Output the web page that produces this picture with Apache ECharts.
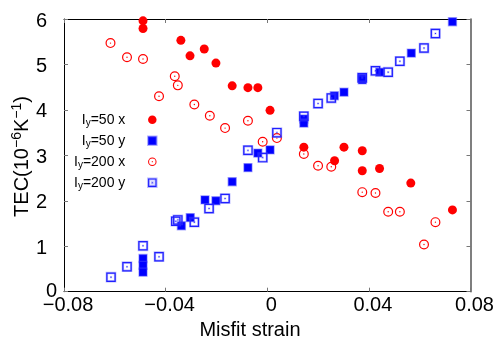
<!DOCTYPE html>
<html><head><meta charset="utf-8">
<script src="https://cdn.jsdelivr.net/npm/echarts@6/dist/echarts.min.js"></script>
<style>html,body{margin:0;padding:0;background:#fff}#c{width:500px;height:350px}</style>
</head><body><div id="c"></div>
<script>
// ---- data ----
const seriesNames = ['Iy=50 x', 'Iy=50 y', 'Iy=200 x', 'Iy=200 y'];

const strain50x = [-0.0489, -0.0489, -0.0340, -0.0304, -0.0248, -0.0202, -0.0138, -0.0076, -0.0037, 0.0011, 0.0144, 0.0265, 0.0302, 0.0374, 0.0374, 0.0442, 0.0565, 0.0729];
const tec50x    = [5.96, 5.79, 5.53, 5.19, 5.34, 5.03, 4.53, 4.49, 4.49, 3.99, 3.18, 2.88, 3.18, 3.10, 2.66, 2.71, 2.39, 1.80];

const strain50y = [-0.0489, -0.0489, -0.0489, -0.0338, -0.0303, -0.0245, -0.0202, -0.0138, -0.0076, -0.0037, 0.0011, 0.0144, 0.0144, 0.0264, 0.0302, 0.0374, 0.0374, 0.0443, 0.0567, 0.0729];
const tec50y    = [0.73, 0.58, 0.43, 1.45, 1.63, 2.02, 2.00, 2.42, 2.73, 3.05, 3.12, 3.80, 3.71, 4.31, 4.39, 4.70, 4.66, 4.83, 5.25, 5.94];

const strain200x = [-0.0617, -0.0552, -0.0489, -0.0426, -0.0364, -0.0352, -0.0287, -0.0226, -0.0166, -0.0076, -0.0018, 0.0038, 0.0144, 0.0200, 0.0252, 0.0374, 0.0426, 0.0476, 0.0522, 0.0617, 0.0662];
const tec200x    = [5.47, 5.16, 5.12, 4.30, 4.74, 4.54, 4.12, 3.87, 3.60, 3.76, 3.30, 3.38, 3.03, 2.77, 2.75, 2.19, 2.17, 1.76, 1.76, 1.04, 1.53];

const strain200y = [-0.0615, -0.0552, -0.0489, -0.0426, -0.0360, -0.0352, -0.0287, -0.0229, -0.0166, -0.0076, -0.0018, 0.0038, 0.0144, 0.0200, 0.0252, 0.0374, 0.0426, 0.0476, 0.0522, 0.0617, 0.0662];
const tec200y    = [0.32, 0.55, 1.01, 0.77, 1.55, 1.58, 1.53, 1.83, 2.05, 3.11, 2.95, 3.50, 3.86, 4.14, 4.26, 4.71, 4.86, 4.83, 5.07, 5.36, 5.68];

const xMin = -0.08, xMax = 0.08, xStep = 0.04;
const xTickLabels = ['\u22120.08', '\u22120.04', '0', '0.04', '0.08'];
const yMin = 0, yMax = 6, yStep = 1;
const yTickLabels = ['0', '1', '2', '3', '4', '5', '6'];

// ---- styling ----
const FONT = 'Liberation Sans, Arial, Helvetica, sans-serif';
const RED = '#ff0000', BLUE = '#0000ff';
const ringSym = 'path://M0,10A10,10,0,1,0,20,10A10,10,0,1,0,0,10Z M2.4,10A7.6,7.6,0,1,1,17.6,10A7.6,7.6,0,1,1,2.4,10Z M8.6,10A1.4,1.4,0,1,0,11.4,10A1.4,1.4,0,1,0,8.6,10Z';
const boxSym = 'path://M0,0L20,0L20,20L0,20Z M2.6,2.6L2.6,17.4L17.4,17.4L17.4,2.6Z M9,9L11,9L11,11L9,11Z';
const sqSym = 'path://M0,0L10,0L10,10L0,10Z';

function pairs(xs, ys) { return xs.map((x, i) => [x, ys[i]]); }

const legendLabel = {
  'Iy=50 x': '{n|I}{s|y}{n|=50 x}',
  'Iy=50 y': '{n|I}{s|y}{n|=50 y}',
  'Iy=200 x': '{n|I}{s|y}{n|=200 x}',
  'Iy=200 y': '{n|I}{s|y}{n|=200 y}'
};

const chart = echarts.init(document.getElementById('c'), null, {renderer: 'canvas'});

const axisTickStyle = {inside: true, length: 4, lineStyle: {color: '#777', width: 1}};

chart.setOption({
  animation: false,
  backgroundColor: '#fff',
  grid: {left: 64, right: 29.5, top: 19, bottom: 58.3, containLabel: false},
  xAxis: [{
    type: 'value', min: xMin, max: xMax, interval: xStep, position: 'bottom',
    axisLine: {onZero: false, lineStyle: {color: '#000', width: 1}},
    axisTick: axisTickStyle, splitLine: {show: false},
    axisLabel: {
      margin: 4, color: '#000', fontFamily: FONT, fontSize: 20, padding: [0, 0, 0, 8],
      formatter: v => xTickLabels[Math.round((v - xMin) / xStep)]
    }
  }, {
    type: 'value', min: xMin, max: xMax, interval: xStep, position: 'top',
    axisLine: {onZero: false, lineStyle: {color: '#000', width: 1}},
    axisTick: axisTickStyle, splitLine: {show: false}, axisLabel: {show: false}
  }],
  yAxis: [{
    type: 'value', min: yMin, max: yMax, interval: yStep, position: 'left',
    axisLine: {onZero: false, lineStyle: {color: '#000', width: 1}},
    axisTick: axisTickStyle, splitLine: {show: false},
    axisLabel: {
      margin: 7, color: '#000', fontFamily: FONT, fontSize: 20,
      formatter: v => {
        const i = Math.round((v - yMin) / yStep);
        return i === 0 ? '{z|' + yTickLabels[i] + '}' : '{a|' + yTickLabels[i] + '}';
      },
      rich: {
        a: {fontFamily: FONT, fontSize: 20, color: '#000', padding: [4, 10, 0, 0]},
        z: {fontFamily: FONT, fontSize: 20, color: '#000'}
      }
    }
  }, {
    type: 'value', min: yMin, max: yMax, interval: yStep, position: 'right',
    axisLine: {onZero: false, lineStyle: {color: '#555', width: 1.5}},
    axisTick: axisTickStyle, splitLine: {show: false}, axisLabel: {show: false}
  }],
  legend: {
    data: seriesNames,
    orient: 'vertical', align: 'right', left: 74, top: 110.7, padding: 0,
    itemWidth: 44, itemHeight: 8.5, itemGap: 3, selectedMode: false,
    formatter: name => legendLabel[name],
    textStyle: {
      color: '#000', fontFamily: FONT, fontSize: 14,
      rich: {
        n: {fontFamily: FONT, fontSize: 14, lineHeight: 16, color: '#000'},
        s: {fontFamily: FONT, fontSize: 10, lineHeight: 12, padding: [8, 0, 0, 0], color: '#000'}
      }
    }
  },
  graphic: [{
    type: 'text', x: 250, y: 330,
    style: {text: 'Misfit strain', font: '20px ' + FONT, fill: '#000', align: 'center', verticalAlign: 'middle'}
  }, {
    type: 'text', x: 22, y: 156.5, rotation: Math.PI / 2,
    style: {
      text: '{n|TEC(10}{s|\u22126}{n|K}{s|\u22121}{n|)}',
      align: 'center', verticalAlign: 'middle', fill: '#000',
      rich: {
        n: {fontFamily: FONT, fontSize: 20, lineHeight: 22, fill: '#000'},
        s: {fontFamily: FONT, fontSize: 14, lineHeight: 14, padding: [0, 0, 10, 0], fill: '#000'}
      }
    }
  }],
  series: [{
    name: 'Iy=50 x', type: 'scatter', symbol: 'circle', symbolSize: 9,
    itemStyle: {color: RED, opacity: 1}, data: pairs(strain50x, tec50x)
  }, {
    name: 'Iy=50 y', type: 'scatter', symbol: sqSym, symbolSize: 8,
    itemStyle: {color: BLUE, borderColor: 'rgba(80,80,255,0.45)', borderWidth: 1.4, opacity: 1}, data: pairs(strain50y, tec50y)
  }, {
    name: 'Iy=200 x', type: 'scatter', symbol: ringSym, symbolSize: 10,
    itemStyle: {color: RED, opacity: 1}, data: pairs(strain200x, tec200x)
  }, {
    name: 'Iy=200 y', type: 'scatter', symbol: boxSym, symbolSize: 9.5,
    itemStyle: {color: BLUE, borderColor: 'rgba(80,80,255,0.4)', borderWidth: 1.2, opacity: 1}, data: pairs(strain200y, tec200y)
  }]
});
</script></body></html>
